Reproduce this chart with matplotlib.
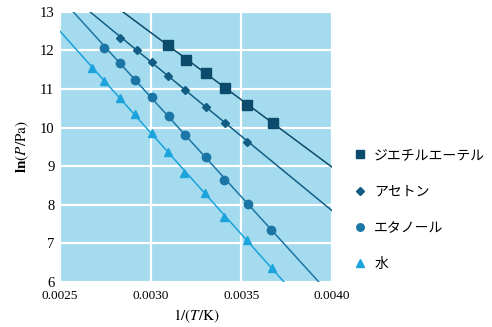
import numpy as np
import matplotlib
matplotlib.use("Agg")
import matplotlib.pyplot as plt

plt.rcParams['font.family'] = ['Liberation Serif', 'Noto Sans CJK JP']
plt.rcParams['mathtext.fontset'] = 'stix'

# data: 1/T (1/K) and ln(P/Pa)
ether_x = [0.003094, 0.003194, 0.003306, 0.003411, 0.003533, 0.003672]
ether_y = [12.14, 11.76, 11.42, 11.03, 10.59, 10.12]
acetone_x = [0.002833, 0.002922, 0.003006, 0.003094, 0.003189, 0.003306, 0.003411, 0.003533]
acetone_y = [12.33, 12.01, 11.70, 11.34, 10.98, 10.54, 10.12, 9.63]
ethanol_x = [0.002744, 0.002828, 0.002911, 0.003006, 0.003100, 0.003189, 0.003306, 0.003406, 0.003539, 0.003661]
ethanol_y = [12.07, 11.68, 11.24, 10.80, 10.30, 9.81, 9.24, 8.64, 8.02, 7.35]
water_x = [0.002678, 0.002744, 0.002828, 0.002911, 0.003006, 0.003094, 0.003183, 0.003300, 0.003406, 0.003533, 0.003667]
water_y = [11.55, 11.21, 10.77, 10.36, 9.86, 9.37, 8.83, 8.31, 7.69, 7.09, 6.36]

labels = ['ジエチルエーテル', 'アセトン', 'エタノール', '水']
xticks = [0.0025, 0.0030, 0.0035, 0.0040]
xticklabels = ['0.0025', '0.0030', '0.0035', '0.0040']
yticks = [6, 7, 8, 9, 10, 11, 12, 13]

series = [
    (ether_x, ether_y, 's', '#0c4b6b', 6.5),
    (acetone_x, acetone_y, 'D', '#135d84', 4.5),
    (ethanol_x, ethanol_y, 'o', '#1b76a6', 6),
    (water_x, water_y, '^', '#1ba3dc', 6),
]

fig = plt.figure(figsize=(4.92, 3.27), dpi=100)
ax = fig.add_axes([0.122, 0.138, 0.553, 0.826])
ax.set_facecolor('#a4dbee')
ax.set_xlim(0.0025, 0.0040)
ax.set_ylim(6, 13)

xx = np.linspace(0.0025, 0.0040, 50)
handles = []
for (x, y, m, c, ms), lab in zip(series, labels):
    p = np.polyfit(x, y, 1)
    ax.plot(xx, np.polyval(p, xx), color=c, lw=1.1, zorder=2)
    ax.plot(x, y, linestyle='none', marker=m, color=c, ms=ms, zorder=3)
    h, = ax.plot([], [], linestyle='none', marker=m, color=c, ms=ms * 0.9)
    handles.append(h)

ax.set_xticks(xticks)
ax.set_xticklabels(xticklabels, fontsize=9.5)
ax.set_yticks(yticks)
ax.tick_params(axis='y', labelsize=10.5, pad=4)
ax.tick_params(axis='x', pad=6)
ax.tick_params(length=0)
ax.grid(True, color='white', lw=1.6)
ax.set_axisbelow(True)
for s in ax.spines.values():
    s.set_visible(False)

ax.set_xlabel(r'$1/(T/\mathrm{K})$', fontsize=11, labelpad=4)
ax.set_ylabel(r'$\mathbf{ln}(P/\mathrm{Pa})$', fontsize=11, labelpad=6)

leg = fig.legend(handles, labels, loc='upper left', bbox_to_anchor=(0.69, 0.585),
                 frameon=False, labelspacing=1.6, handletextpad=0.4,
                 handlelength=1.2, prop={'family': ['Noto Sans CJK JP'], 'size': 10})

fig.savefig('out.png', dpi=100)
